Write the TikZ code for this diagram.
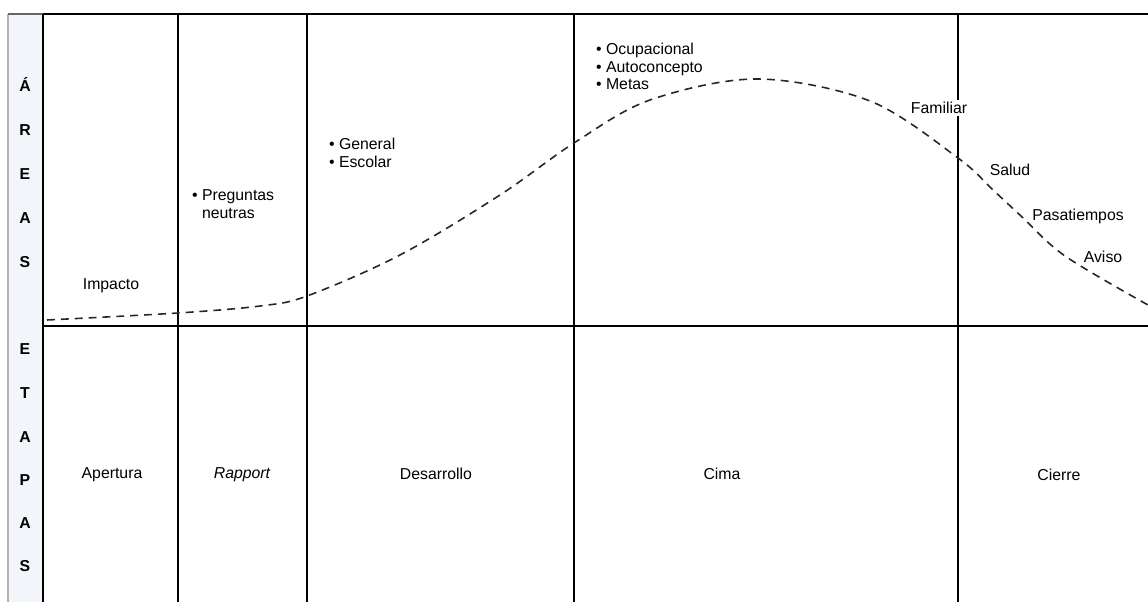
\documentclass[tikz,border=0pt]{standalone}
\usepackage{fontspec}
\setmainfont{Liberation Sans}
\usepackage{xcolor}
\usetikzlibrary{positioning}
\definecolor{stripgray}{RGB}{242,245,250}
\tikzset{
  gridline/.style={line width=1.2pt},
  curva/.style={line width=0.9pt,dash pattern=on 4.5pt off 3.4pt,black!85},
  lbl/.style={font=\fontsize{9}{9.7}\selectfont,inner sep=1pt},
  letra/.style={font=\bfseries\fontsize{9}{9}\selectfont,inner sep=0pt}
}
\newcommand{\vin}{\textbullet}

\begin{document}
\begin{tikzpicture}
\useasboundingbox (0,0) rectangle (22.96,12.04);

% Strip
\fill[stripgray] (0.16,0) rectangle (0.86,11.76);
\draw[gray!60,line width=0.6pt] (0.16,0) -- (0.16,11.76);
\draw[gray!80!black,gridline] (0.16,11.76) -- (0.86,11.76);

% Grid
\draw[gridline] (0.86,11.76) -- (22.96,11.76);
\draw[gridline] (0.86,5.52) -- (22.96,5.52);
\foreach \x in {0.86,3.56,6.14,11.48,19.16}
  \draw[gridline] (\x,0) -- (\x,11.76);

% Letters
\foreach \l/\y [count=\i] in {\'A/10.34,R/9.44,E/8.56,A/7.68,S/6.8,E/5.06,T/4.18,A/3.3,P/2.44,A/1.58,S/0.72}
  \node[letra] (l-\i) at (0.5,\y) {\l};

% Curve
\draw[curva] plot[smooth,tension=0.55] coordinates {(0.94,5.64) (3.56,5.78) (5.2,5.92) (6.14,6.12) (8,6.94) (10,8.14) (11.48,9.18) (13,10.04) (15.14,10.46) (17.4,10.02) (19.16,8.88) (19.86,8.24) (20.42,7.72) (21.3,6.92) (22.96,5.94)};

% Areas
\node[lbl] (impacto) at (2.22,6.32) {Impacto};
\node[lbl,anchor=base west] (preguntas) at (3.8,8.02)
  {\begin{tabular}[t]{@{}l@{\hspace{2.5pt}}l@{}}\vin & Preguntas\\ & neutras\end{tabular}};
\node[lbl,anchor=base west] (general) at (6.54,9.04)
  {\begin{tabular}[t]{@{}l@{\hspace{2.5pt}}l@{}}\vin & General\\ \vin & Escolar\end{tabular}};
\node[lbl,anchor=base west] (ocupacional) at (11.88,10.94)
  {\begin{tabular}[t]{@{}l@{\hspace{2.5pt}}l@{}}\vin & Ocupacional\\ \vin & Autoconcepto\\ \vin & Metas\end{tabular}};
\node[lbl,fill=white] (familiar) at (18.78,9.88) {Familiar};
\node[lbl] (salud) at (20.2,8.64) {Salud};
\node[lbl] (pasatiempos) at (21.56,7.72) {Pasatiempos};
\node[lbl] (aviso) at (22.06,6.9) {Aviso};

% Etapas
\node[lbl] (apertura) at (2.24,2.54) {Apertura};
\node[lbl] (rapport) at (4.84,2.54) {\itshape Rapport};
\node[lbl] (desarrollo) at (8.72,2.56) {Desarrollo};
\node[lbl] (cima) at (14.44,2.56) {Cima};
\node[lbl] (cierre) at (21.18,2.54) {Cierre};

\end{tikzpicture}
\end{document}
